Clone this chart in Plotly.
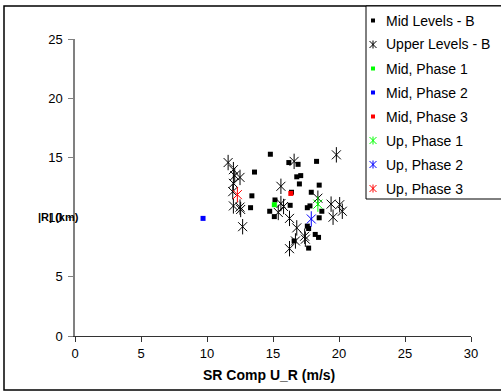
import plotly.graph_objects as go

# ---- data ----
mid_b_x = [14.8, 13.6, 16.2, 16.9, 18.3, 16.8, 17.1, 17.0, 18.5, 17.9, 13.4, 16.3, 13.3, 15.15,
           17.6, 17.8, 14.75, 15.1, 18.7, 18.5, 17.6, 17.7, 18.2, 18.45, 16.6, 17.7, 16.4]
mid_b_y = [15.3, 13.8, 14.6, 14.45, 14.7, 13.4, 13.5, 12.8, 12.7, 12.1, 11.8, 11.0, 10.8, 11.45,
           10.8, 10.95, 10.5, 10.05, 10.5, 9.95, 9.25, 9.05, 8.55, 8.3, 8.0, 7.4, 12.1]

up_b_x = [19.8, 16.6, 11.6, 12.0, 12.1, 12.5, 12.0, 11.95, 12.0, 12.5, 12.55, 12.7, 15.6, 15.6,
          15.8, 15.4, 16.25, 16.8, 17.4, 17.45, 16.7, 16.25, 18.4, 19.4, 20.05, 20.25, 19.55]
up_b_y = [15.25, 14.7, 14.6, 14.0, 13.5, 13.35, 12.85, 12.15, 10.95, 10.85, 10.65, 9.2, 12.6, 11.15,
          10.9, 10.4, 9.9, 9.1, 8.4, 8.15, 8.0, 7.35, 11.6, 11.1, 11.05, 10.5, 10.0]

mid_p1_x, mid_p1_y = [15.1], [11.05]
mid_p2_x, mid_p2_y = [9.7], [9.9]
mid_p3_x, mid_p3_y = [16.35], [12.0]
up_p1_x, up_p1_y = [18.4], [11.1]
up_p2_x, up_p2_y = [17.9], [9.85]
up_p3_x, up_p3_y = [12.3], [11.9]

x_ticks = [0, 5, 10, 15, 20, 25, 30]
y_ticks = [0, 5, 10, 15, 20, 25]

series = [
    ("Mid Levels - B", mid_b_x, mid_b_y, "black", "square"),
    ("Upper Levels - B", up_b_x, up_b_y, "black", "star"),
    ("Mid, Phase 1", mid_p1_x, mid_p1_y, "#00ff00", "square"),
    ("Mid, Phase 2", mid_p2_x, mid_p2_y, "#0000ff", "square"),
    ("Mid, Phase 3", mid_p3_x, mid_p3_y, "#ff0000", "square"),
    ("Up, Phase 1", up_p1_x, up_p1_y, "#00ff00", "star"),
    ("Up, Phase 2", up_p2_x, up_p2_y, "#0000ff", "star"),
    ("Up, Phase 3", up_p3_x, up_p3_y, "#ff0000", "star"),
]

# figure geometry (pixels)
W, H = 501, 391
L, R, T, B = 75, 30, 39, 55
PW, PH = W - L - R, H - T - B


def px(x):
    return (x - L) / PW


def py(y):
    return (H - B - y) / PH


fig = go.Figure()
for name, xs, ys, color, kind in series:
    if kind == "square":
        fig.add_trace(go.Scatter(x=xs, y=ys, mode="markers", name=name, showlegend=False,
                                 marker=dict(symbol="square", size=5, color=color,
                                             line=dict(width=0))))
    else:
        fig.add_trace(go.Scatter(x=xs, y=ys, mode="markers", name=name, showlegend=False,
                                 marker=dict(symbol="x-thin-open", size=9, color=color,
                                             line=dict(width=1, color=color))))
        fig.add_trace(go.Scatter(x=xs, y=ys, mode="markers", name=name, showlegend=False,
                                 hoverinfo="skip",
                                 marker=dict(symbol="line-ns-open", size=11, color=color,
                                             line=dict(width=1, color=color))))

font = "Liberation Sans, Arial, sans-serif"

shapes = []
annotations = []

# outer chart frame
shapes.append(dict(type="rect", xref="paper", yref="paper",
                   x0=px(4), x1=px(520), y0=py(390), y1=py(6),
                   line=dict(color="black", width=1.5), fillcolor="rgba(0,0,0,0)",
                   layer="below"))

# legend box
leg_left, leg_top, leg_bottom = 366, 6, 199
shapes.append(dict(type="rect", xref="paper", yref="paper",
                   x0=px(leg_left), x1=px(520), y0=py(leg_bottom), y1=py(leg_top),
                   line=dict(color="black", width=1), fillcolor="white", layer="above"))

y0, dy = 20.5, 24.0
mx, tx = 373, 384
for i, (name, xs, ys, color, kind) in enumerate(series):
    yc = y0 + i * dy
    if kind == "square":
        shapes.append(dict(type="rect", xref="paper", yref="paper",
                           x0=px(mx - 2), x1=px(mx + 2), y0=py(yc + 2), y1=py(yc - 2),
                           line=dict(width=0), fillcolor=color, layer="above"))
    else:
        s = 3.5
        for (ax, ay, bx, by) in [(-s, -s, s, s), (-s, s, s, -s), (0, -s - 0.5, 0, s + 0.5)]:
            shapes.append(dict(type="line", xref="paper", yref="paper",
                               x0=px(mx + ax), y0=py(yc + ay), x1=px(mx + bx), y1=py(yc + by),
                               line=dict(color=color, width=1), layer="above"))
    annotations.append(dict(text=name, xref="paper", yref="paper", x=px(tx), y=py(yc),
                            xanchor="left", yanchor="middle", showarrow=False,
                            font=dict(family=font, size=14, color="black")))

# y axis title (horizontal, Excel style)
annotations.append(dict(text="<b>|R| (km)</b>", xref="paper", yref="y",
                        x=px(81), y=10, xanchor="right", yanchor="middle",
                        showarrow=False, font=dict(size=11, family=font, color="black")))
# x axis title
annotations.append(dict(text="<b>SR Comp U_R (m/s)</b>", xref="paper", yref="paper",
                        x=px(269), y=py(375), xanchor="center", yanchor="middle",
                        showarrow=False, font=dict(size=14, family=font, color="black")))

fig.update_layout(
    width=W, height=H,
    margin=dict(l=L, r=R, t=T, b=B),
    paper_bgcolor="white", plot_bgcolor="white",
    font=dict(family=font, size=13, color="black"),
    showlegend=False,
    xaxis=dict(range=[0, 30], tickvals=x_ticks, showgrid=False, zeroline=False,
               showline=True, linecolor="#333333", linewidth=1,
               ticks="outside", ticklen=5, tickcolor="#333333",
               tickfont=dict(size=13)),
    yaxis=dict(range=[0, 25], tickvals=y_ticks, showgrid=False, zeroline=False,
               showline=True, linecolor="#808080", linewidth=1.5,
               ticks="outside", ticklen=5, tickcolor="#808080",
               tickfont=dict(size=13), ticklabelstandoff=3),
    annotations=annotations,
    shapes=shapes,
)

fig.write_html("out.html")
